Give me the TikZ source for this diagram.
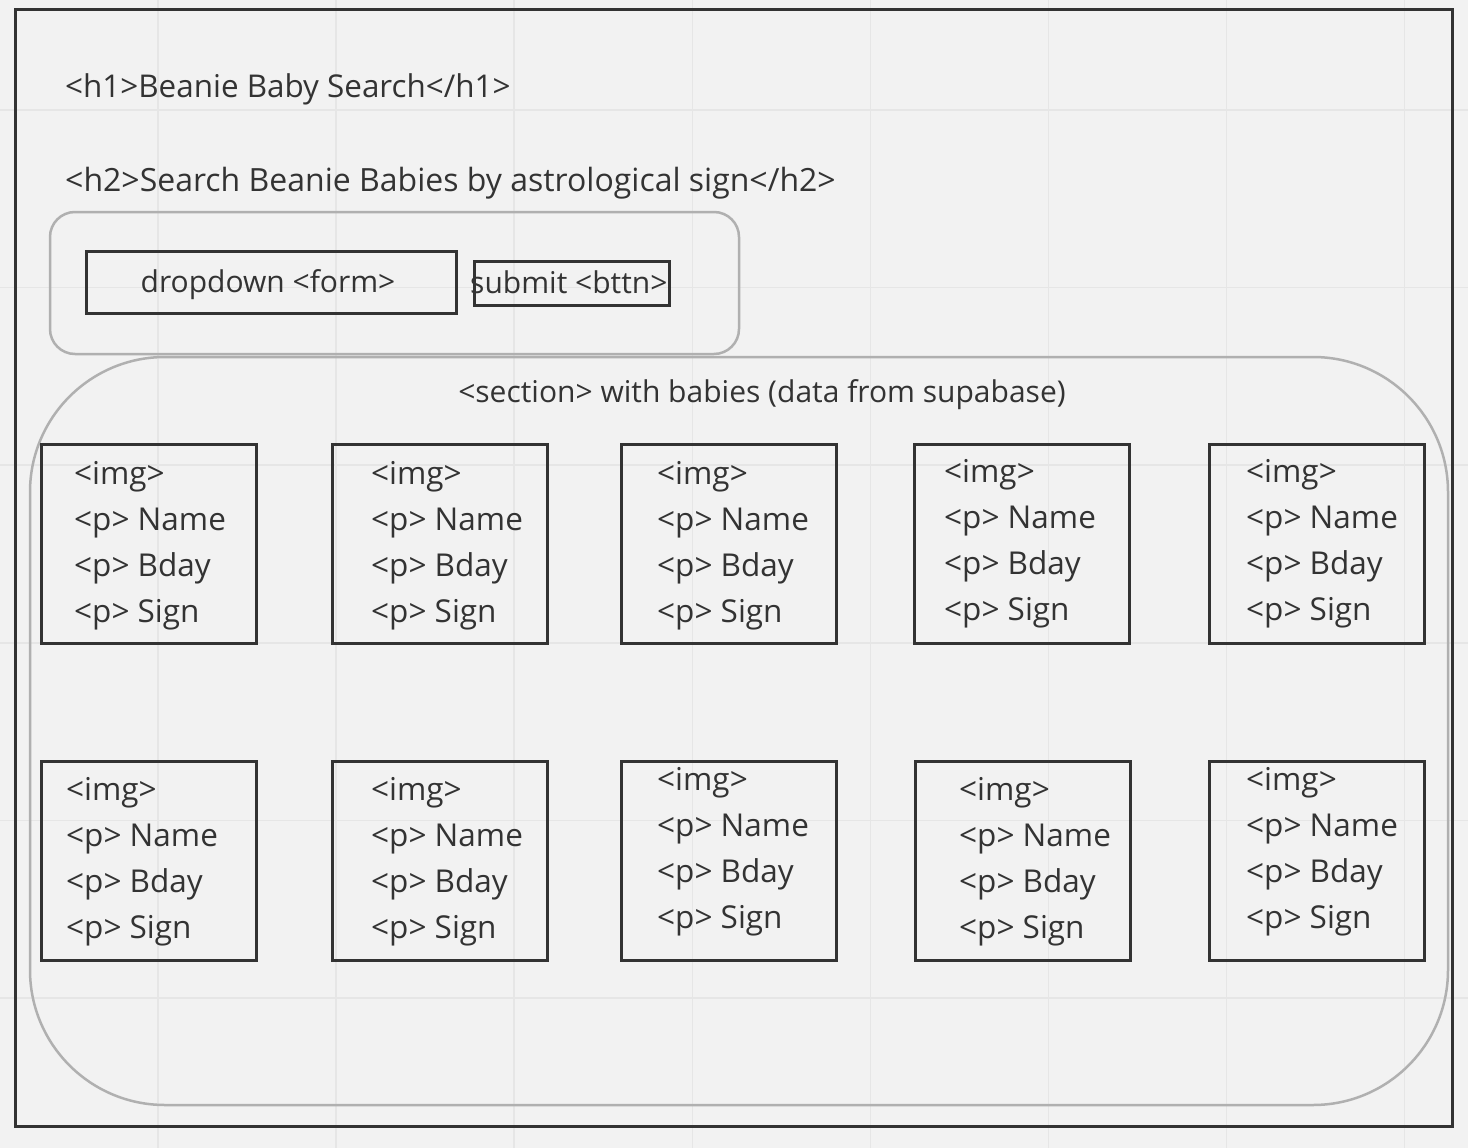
\documentclass[tikz,border=0pt]{standalone}
\usepackage{fontspec}
\setmainfont{Open Sans}
\definecolor{ink}{HTML}{333333}
\definecolor{paper}{HTML}{F2F2F2}
\definecolor{gridgray}{HTML}{E6E6E6}
\definecolor{groupgray}{HTML}{B0B0B0}

\begin{document}
\begin{tikzpicture}[x=1pt,y=-1pt,
	frame/.style={draw=ink,line width=3pt},
	group/.style={draw=groupgray,line width=2.5pt},
	card/.style={draw=ink,line width=3pt,minimum width=215pt,minimum height=199pt,anchor=north west,inner sep=0pt},
	tagtext/.style={text=ink,anchor=base west,inner sep=0pt,font=\fontsize{31.5}{38}\selectfont}]
	\fill[paper] (0,0) rectangle (1468,1148);
	\useasboundingbox (0,0) rectangle (1468,1148);
	\foreach \gx in {0,...,7}
		\draw[gridgray,line width=1.5pt] ({158+178.1*\gx},0) -- ({158+178.1*\gx},1148);
	\foreach \gy in {0,...,5}
		\draw[gridgray,line width=1.5pt] (0,{110+177.6*\gy}) -- (1468,{110+177.6*\gy});
	\draw[frame] (15,10) rectangle (1452,1126);
	\node[tagtext,font=\fontsize{31.4}{38}\selectfont] (title) at (65,97) {<h1>Beanie Baby Search</h1>};
	\node[tagtext,font=\fontsize{32}{38}\selectfont] (subtitle) at (65,191) {<h2>Search Beanie Babies by astrological sign</h2>};
	\draw[group,rounded corners=25pt] (50,212) rectangle (739,354);
	\draw[group,rounded corners=135pt] (30,357) rectangle (1448,1105);
	\node[draw=ink,line width=3pt,minimum width=370pt,minimum height=62pt,inner sep=0pt,anchor=north west] (dropdown) at (85,250) {};
	\node[tagtext,anchor=base,font=\fontsize{30}{36}\selectfont] (dropdowntext) at (268,292) {dropdown <form>};
	\node[draw=ink,line width=3pt,minimum width=195pt,minimum height=44pt,inner sep=0pt,anchor=north west] (submit) at (473,260) {};
	\node[tagtext,font=\fontsize{30}{36}\selectfont] (submittext) at (470,293) {submit <bttn>};
	\node[tagtext,anchor=base,font=\fontsize{30}{36}\selectfont] (section) at (762,402) {<section> with babies (data from supabase)};
	\foreach \cx/\cy/\tx/\ty [count=\n] in {40/443/74/484,331/443/371/484,620/443/657/484,913/443/944/482,1208/443/1246/482,
		40/760/66/800,331/760/371/800,620/760/657/790,914/760/959/800,1208/760/1246/790}{
		\node[card] (card\n) at (\cx,\cy) {};
		\foreach \t [count=\i] in {<img>,<p> Name,<p> Bday,<p> Sign}
			\node[tagtext] (card\n-\i) at (\tx,{\ty+46*(\i-1)}) {\t};
	}
\end{tikzpicture}
\end{document}
